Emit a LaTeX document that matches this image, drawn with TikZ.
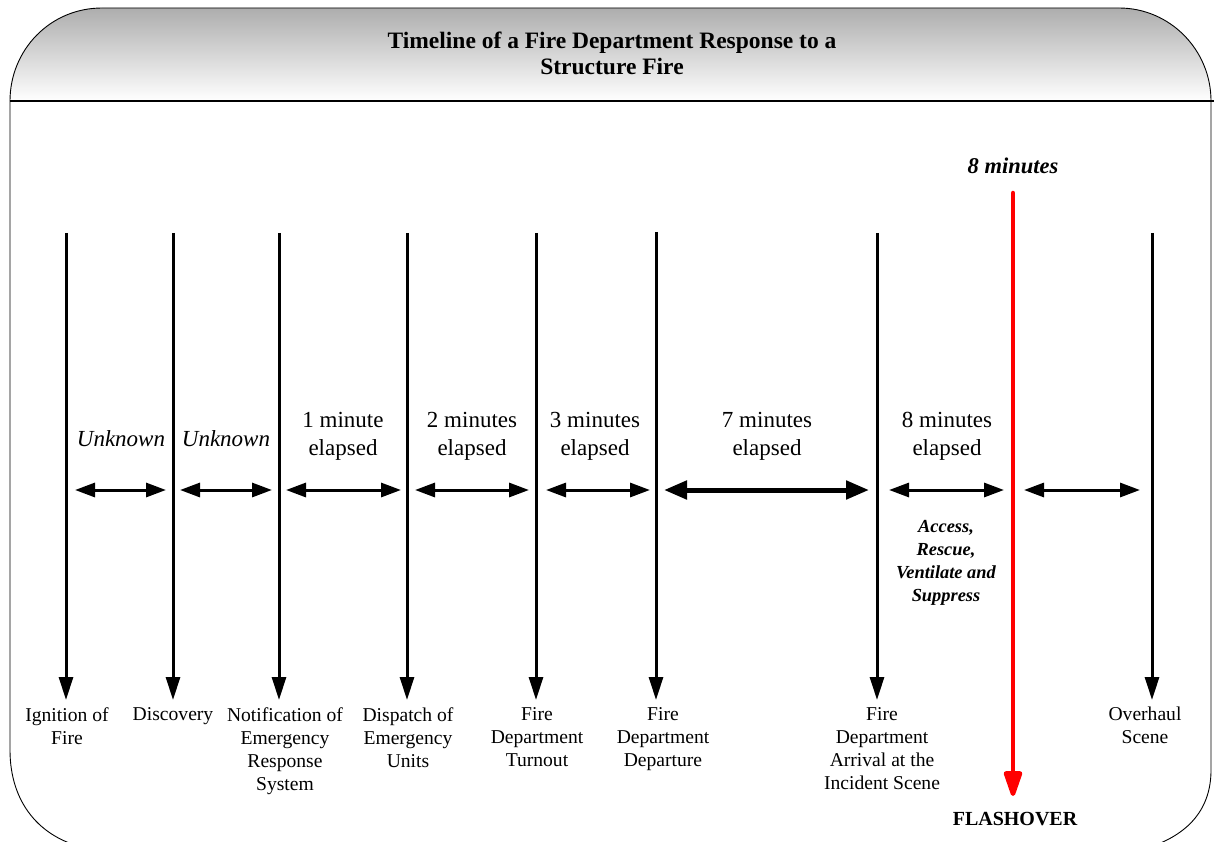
\documentclass[tikz,border=0pt]{standalone}
\usepackage{fontspec}
\setmainfont{Liberation Serif}
\usetikzlibrary{arrows.meta}
\begin{document}
\begin{tikzpicture}[x=1pt,y=-1pt,
  frame/.style={draw=black, line width=0.9pt},
  eventline/.style={line width=3pt, -{Triangle[length=23pt,width=14pt]}},
  spanarrow/.style={line width=3pt, {Triangle[length=20pt,width=14pt]}-{Triangle[length=20pt,width=14pt]}},
  spanthick/.style={line width=5pt, {Triangle[length=23pt,width=18pt]}-{Triangle[length=23pt,width=18pt]}},
  flash/.style={draw=red, line width=4.5pt, line cap=round, -{Triangle[length=30pt,width=19pt,round=false]}, color=red},
  evlabel/.style={font=\fontsize{19.6}{23}\selectfont, align=center, anchor=north, inner sep=0pt},
  midlabel/.style={font=\fontsize{23}{28}\selectfont, align=center, anchor=north, inner sep=0pt},
  unk/.style={font=\fontsize{23}{28}\selectfont\itshape, anchor=base, inner sep=0pt},
  actlabel/.style={font=\fontsize{18.4}{23}\selectfont\bfseries\itshape, align=center, anchor=north, inner sep=0pt},
  title/.style={font=\fontsize{23.5}{26}\selectfont\bfseries, align=center, anchor=north, inner sep=0pt}
]
\useasboundingbox (0,0) rectangle (1214,842);
\begin{scope}
\clip (0,0) rectangle (1214,842);
% header band
\shade[top color=black!32, bottom color=white]
  (10,101) -- (10,100) .. controls (10,50) and (50,8) .. (102,8)
  -- (1119,8) .. controls (1170,8) and (1211,50) .. (1211,100) -- (1211,101) -- cycle;
\draw[frame]
  (10,101) .. controls (10,50) and (50,8) .. (102,8)
  -- (1119,8) .. controls (1170,8) and (1211,50) .. (1211,101);
\draw[line width=1.4pt] (10,101) -- (1214,101);
% body frame
\draw[frame] (10,101) -- (10,750) .. controls (10,803) and (40,838) .. (86,848);
\draw[frame] (1211,101) -- (1211,770) .. controls (1211,812) and (1185,838) .. (1140,850);
\end{scope}

\node[title] (ttl) at (612,32) {Timeline of a Fire Department Response to a\\Structure Fire};

% event lines
\coordinate (t1) at (66,233);   \coordinate (b1) at (66,700);
\coordinate (t2) at (173,233);  \coordinate (b2) at (173,700);
\coordinate (t3) at (279,233);  \coordinate (b3) at (279,700);
\coordinate (t4) at (407,233);  \coordinate (b4) at (407,700);
\coordinate (t5) at (536,233);  \coordinate (b5) at (536,700);
\coordinate (t6) at (656,232);  \coordinate (b6) at (656,700);
\coordinate (t7) at (877,233);  \coordinate (b7) at (877,700);
\coordinate (t8) at (1152,233); \coordinate (b8) at (1152,700);
\coordinate (tf) at (1013,193); \coordinate (bf) at (1013,796);

\foreach \i in {1,...,8} \draw[eventline] (t\i) -- (b\i);
\draw[flash] (tf) -- (bf);

% spans
\coordinate (s1a) at (75,490);   \coordinate (s1b) at (166,490);
\coordinate (s2a) at (180,490);  \coordinate (s2b) at (272,490);
\coordinate (s3a) at (286,490);  \coordinate (s3b) at (401,490);
\coordinate (s4a) at (415,490);  \coordinate (s4b) at (529,490);
\coordinate (s5a) at (546,490);  \coordinate (s5b) at (650,490);
\coordinate (s6a) at (664,490);  \coordinate (s6b) at (869,490);
\coordinate (s7a) at (889,490);  \coordinate (s7b) at (1004,490);
\coordinate (s8a) at (1024,490); \coordinate (s8b) at (1140,490);
\foreach \i in {1,2,3,4,5,7,8} \draw[spanarrow] (s\i a) -- (s\i b);
\draw[spanthick] (s6a) -- (s6b);

% span labels
\node[unk] (u1) at (121,446) {Unknown};
\node[unk] (u2) at (226,446) {Unknown};
\node[midlabel] (m1) at (343,412) {1 minute\\elapsed};
\node[midlabel] (m2) at (472,412) {2 minutes\\elapsed};
\node[midlabel] (m3) at (595,412) {3 minutes\\elapsed};
\node[midlabel] (m7) at (767,412) {7 minutes\\elapsed};
\node[midlabel] (m8) at (947,412) {8 minutes\\elapsed};
\node[actlabel] (act) at (946,520) {Access,\\Rescue,\\Ventilate and\\Suppress};

% top label
\node[font=\fontsize{22.5}{26}\selectfont\bfseries\itshape, anchor=base, inner sep=0pt] (eight) at (1013,174) {8 minutes};

% event labels
\node[evlabel] (l1) at (67,707) {Ignition of\\Fire};
\node[evlabel] (l2) at (173,707) {Discovery};
\node[evlabel] (l3) at (285,707) {Notification of\\Emergency\\Response\\System};
\node[evlabel] (l4) at (408,707) {Dispatch of\\Emergency\\Units};
\node[evlabel] (l5) at (537,707) {Fire\\Department\\Turnout};
\node[evlabel] (l6) at (663,707) {Fire\\Department\\Departure};
\node[evlabel] (l7) at (882,707) {Fire\\Department\\Arrival at the\\Incident Scene};
\node[evlabel] (l8) at (1145,707) {Overhaul\\Scene};
\node[font=\fontsize{20}{24}\selectfont\bfseries, anchor=base, inner sep=0pt] (fo) at (1015,825) {FLASHOVER};
\end{tikzpicture}
\end{document}
